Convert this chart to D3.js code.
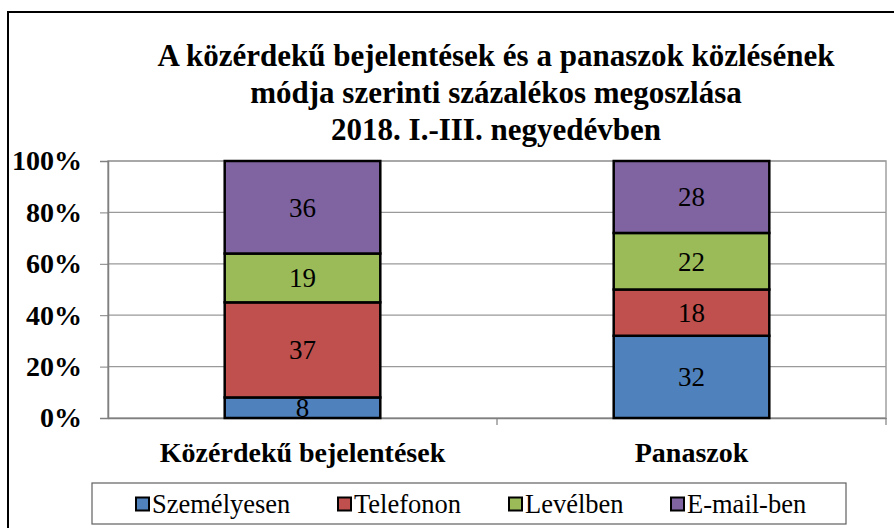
<!DOCTYPE html>
<html>
<head>
<meta charset="utf-8">
<script src="https://cdn.jsdelivr.net/npm/d3@7"></script>
<style>
  html, body { margin: 0; padding: 0; background: #fff; }
  svg { display: block; }
</style>
</head>
<body>
<svg id="chart" width="894" height="528" font-family="Liberation Serif"></svg>
<script>
const categories = ["Közérdekű bejelentések", "Panaszok"];
const seriesNames = ["Személyesen", "Telefonon", "Levélben", "E-mail-ben"];
const szemelyesen = [8, 32];
const telefonon = [37, 18];
const levelben = [19, 22];
const email = [36, 28];
const seriesColors = ["#4F81BD", "#C0504D", "#9BBB59", "#8064A2"];
const yTicks = [0, 20, 40, 60, 80, 100];
const titleLines = [
  "A közérdekű bejelentések és a panaszok közlésének",
  "módja szerinti százalékos megoszlása",
  "2018. I.-III. negyedévben"
];

const FONT = "Liberation Serif";
const seriesValues = [szemelyesen, telefonon, levelben, email];
const rows = categories.map((c, i) => {
  const r = { cat: c };
  seriesNames.forEach((s, j) => r[s] = seriesValues[j][i]);
  return r;
});
const stacked = d3.stack().keys(seriesNames)(rows);

const svg = d3.select("#chart");
const W = 894, H = 528;
const plot = { left: 108, right: 886, top: 161, bottom: 418 };

svg.append("rect").attr("x", 8).attr("y", 12).attr("width", W + 10).attr("height", H + 10)
  .attr("fill", "none").attr("stroke", "#000").attr("stroke-width", 2);

// title
titleLines.forEach((t, i) => {
  svg.append("text").attr("text-anchor", "middle")
    .attr("font-family", FONT).attr("font-weight", "bold").attr("font-size", 31).attr("fill", "#000")
    .attr("x", 496).attr("y", 66 + i * 37).text(t);
});

const x = d3.scaleBand().domain(categories).range([plot.left, plot.right]).padding(0);
const y = d3.scaleLinear().domain([0, 100]).range([plot.bottom, plot.top]);
const barW = x.bandwidth() * 0.4;
const barOff = (x.bandwidth() - barW) / 2;

svg.append("rect").attr("x", plot.left).attr("y", plot.top)
  .attr("width", plot.right - plot.left).attr("height", plot.bottom - plot.top)
  .attr("fill", "none").attr("stroke", "#a0a0a0").attr("stroke-width", 1.5);

svg.append("g").selectAll("line").data(yTicks.filter(d => d > 0)).join("line")
  .attr("x1", plot.left).attr("x2", plot.right)
  .attr("y1", d => y(d)).attr("y2", d => y(d))
  .attr("stroke", "#9a9a9a").attr("stroke-width", 1.2);

const yAxis = svg.append("g").attr("transform", `translate(${plot.left},0)`)
  .call(d3.axisLeft(y).tickValues(yTicks).tickFormat(d => d + "%").tickSize(8).tickPadding(18));
yAxis.attr("font-family", FONT).attr("font-size", 28);
yAxis.select(".domain").attr("stroke", "#808080").attr("stroke-width", 1.5);
yAxis.selectAll(".tick line").attr("stroke", "#808080");
yAxis.selectAll(".tick text").attr("font-weight", "bold").attr("fill", "#000");

const xAxis = svg.append("g").attr("transform", `translate(0,${plot.bottom})`)
  .call(d3.axisBottom(x).tickSize(0).tickPadding(18));
xAxis.attr("font-family", FONT).attr("font-size", 28);
xAxis.select(".domain").attr("stroke", "#808080").attr("stroke-width", 1.5);
xAxis.selectAll(".tick text").attr("font-weight", "bold").attr("fill", "#000")
  .attr("y", 44).attr("dy", 0);
svg.append("g").selectAll("line").data([categories[1]]).join("line")
  .attr("x1", d => x(d)).attr("x2", d => x(d))
  .attr("y1", plot.bottom).attr("y2", plot.bottom + 7)
  .attr("stroke", "#808080").attr("stroke-width", 1.2);
svg.append("line").attr("x1", plot.right).attr("x2", plot.right)
  .attr("y1", plot.bottom).attr("y2", plot.bottom + 7)
  .attr("stroke", "#808080").attr("stroke-width", 1.2);

const layers = svg.append("g").selectAll("g").data(stacked).join("g")
  .attr("fill", (d, i) => seriesColors[i]);
layers.selectAll("rect").data(d => d).join("rect")
  .attr("x", d => x(d.data.cat) + barOff)
  .attr("width", barW)
  .attr("y", d => y(d[1]))
  .attr("height", d => y(d[0]) - y(d[1]))
  .attr("stroke", "#000").attr("stroke-width", 2.5);

layers.selectAll("text").data(d => d.map(v => ({ v, key: d.key }))).join("text")
  .attr("x", d => x(d.v.data.cat) + x.bandwidth() / 2)
  .attr("y", d => (y(d.v[0]) + y(d.v[1])) / 2)
  .attr("dy", "0.35em")
  .attr("text-anchor", "middle")
  .attr("font-family", FONT).attr("font-size", 27).attr("fill", "#000")
  .text(d => d.v.data[d.key]);

const lg = svg.append("g");
lg.append("rect").attr("x", 92).attr("y", 483).attr("width", 754).attr("height", 41)
  .attr("fill", "#fff").attr("stroke", "#606060").attr("stroke-width", 1.2);
const legendX = [136, 338, 509, 671];
const items = lg.selectAll("g.item").data(seriesNames).join("g").attr("class", "item")
  .attr("transform", (d, i) => `translate(${legendX[i]},504)`);
items.append("rect").attr("x", 0).attr("y", -6.5).attr("width", 13).attr("height", 13)
  .attr("fill", (d, i) => seriesColors[i]).attr("stroke", "#000").attr("stroke-width", 2);
items.append("text").attr("x", 16).attr("dy", "0.35em")
  .attr("font-family", FONT).attr("font-size", 26.5)
  .attr("fill", "#000").text(d => d);
</script>
</body>
</html>
